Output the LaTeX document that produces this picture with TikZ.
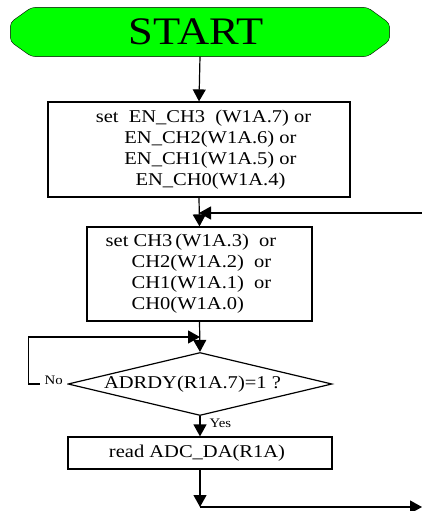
\documentclass[tikz,border=0pt]{standalone}
\usepackage{fontspec}
\setmainfont{Liberation Serif}[FakeStretch=1.14]
\usetikzlibrary{arrows.meta,shapes.geometric,backgrounds}
\definecolor{startgreen}{RGB}{0,255,0}
\begin{document}
\begin{tikzpicture}[x=1pt,y=-1pt,
  line width=1.2pt,
  arr/.style={-{Triangle[length=12pt,width=13pt]}},
  procbox/.style={draw, rectangle, inner sep=0pt, font=\fontsize{18}{21}\selectfont},
  decbox/.style={draw, diamond, aspect=4.19, inner sep=0pt, minimum width=264pt, minimum height=63pt, font=\fontsize{18}{21}\selectfont},
  lbl/.style={font=\fontsize{13}{15}\selectfont, inner sep=3pt}
]
\useasboundingbox (0,0) rectangle (422,511);

\node[rectangle, inner sep=0pt, minimum width=378pt, minimum height=48pt,
      font=\fontsize{39}{40}\selectfont] (start) at (200,32) {START\hspace*{8pt}};
\begin{scope}[on background layer]
\fill[white] (0,0) rectangle (422,511);
\path[draw, fill=startgreen, rounded corners=4pt]
  ([xshift=21pt]start.north west) -- ([xshift=-22pt]start.north east)
  -- ([yshift=-16pt]start.north east) -- ([yshift=16pt]start.south east)
  -- ([xshift=-22pt]start.south east) -- ([xshift=21pt]start.south west)
  -- ([yshift=15pt]start.south west) -- ([yshift=-15pt]start.north west) -- cycle;
\end{scope}

\node[procbox, minimum width=302pt, minimum height=95pt, align=center] (en) at (199,149.5)
  {\hspace*{9pt}set\ \ EN\_CH3\ \ (W1A.7) or\\
   \hspace*{23pt}EN\_CH2(W1A.6) or\\
   \hspace*{23pt}EN\_CH1(W1A.5) or\\
   \hspace*{23pt}EN\_CH0(W1A.4)};

\node[procbox, minimum width=225pt, minimum height=94pt, align=left] (ch) at (199.5,274)
  {set\ CH3\,(W1A.3)\ \ or\hspace*{17pt}\\
   \hspace*{26pt}CH2(W1A.2)\ \ or\\
   \hspace*{26pt}CH1(W1A.1)\ \ or\\
   \hspace*{26pt}CH0(W1A.0)};

\node[decbox] (dia) at (200,384) {ADRDY(R1A.7)=1 ?\hspace*{15pt}};

\node[procbox, minimum width=264pt, minimum height=32pt] (rd) at (200,453)
  {read ADC\_DA(R1A)\hspace*{6pt}};

\coordinate (fb) at (422,213);
\coordinate (noin) at (200,337);
\coordinate (bot) at (200,507);
\coordinate (out) at (422,507);

\draw[arr] (start.south) -- (en.north);
\draw[arr] (en.south) -- (ch.north);
\draw[arr] (fb) -- (en.south |- fb);
\draw[arr] (ch.south) -- (dia.north);
\draw[arr] (dia.west) -- node[lbl, pos=0.35, anchor=base, fill=white, minimum width=27pt] (no) {No} ++(-39,0) |- (noin);
\draw[arr] (dia.south) -- node[lbl, pos=0.545, anchor=base west, xshift=9pt, inner sep=0pt] (yes) {Yes} (rd.north);
\draw[arr] (rd.south) -- (bot);
\draw[arr] (bot) -- (out);
\end{tikzpicture}
\end{document}
